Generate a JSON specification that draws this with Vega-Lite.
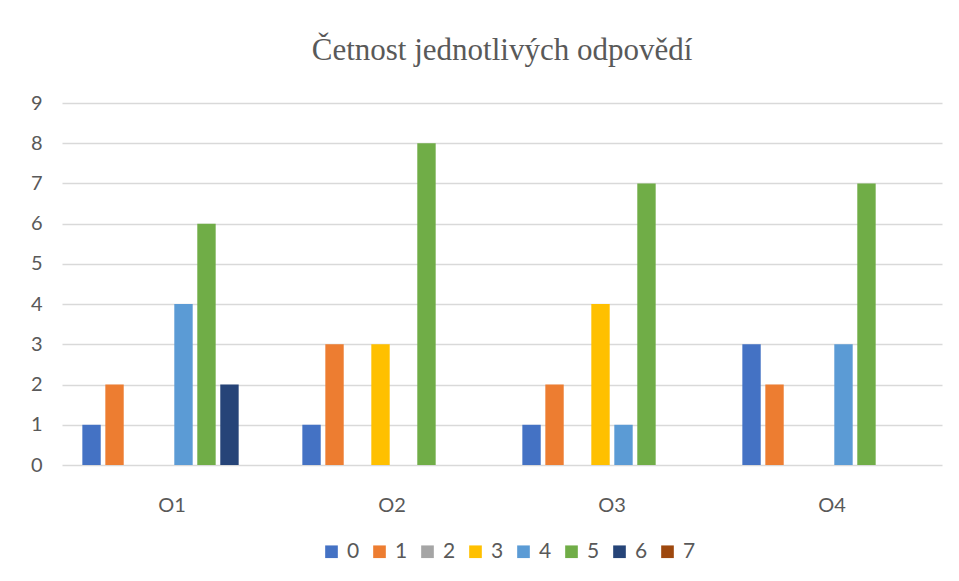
{
  "$schema": "https://vega.github.io/schema/vega-lite/v6.json",
  "autosize": "none",
  "width": 880,
  "height": 362,
  "padding": {"left": 62, "top": 103, "right": 17, "bottom": 116},
  "background": "white",
  "title": {
    "text": "Četnost jednotlivých odpovědí",
    "font": "Liberation Serif",
    "fontSize": 31,
    "fontWeight": "normal",
    "color": "#595959",
    "anchor": "middle",
    "offset": 26
  },
  "data": {
    "values": [
      {"otazka": "O1", "odpoved": "0", "pocet": 1},
      {"otazka": "O1", "odpoved": "1", "pocet": 2},
      {"otazka": "O1", "odpoved": "2", "pocet": 0},
      {"otazka": "O1", "odpoved": "3", "pocet": 0},
      {"otazka": "O1", "odpoved": "4", "pocet": 4},
      {"otazka": "O1", "odpoved": "5", "pocet": 6},
      {"otazka": "O1", "odpoved": "6", "pocet": 2},
      {"otazka": "O1", "odpoved": "7", "pocet": 0},
      {"otazka": "O2", "odpoved": "0", "pocet": 1},
      {"otazka": "O2", "odpoved": "1", "pocet": 3},
      {"otazka": "O2", "odpoved": "2", "pocet": 0},
      {"otazka": "O2", "odpoved": "3", "pocet": 3},
      {"otazka": "O2", "odpoved": "4", "pocet": 0},
      {"otazka": "O2", "odpoved": "5", "pocet": 8},
      {"otazka": "O2", "odpoved": "6", "pocet": 0},
      {"otazka": "O2", "odpoved": "7", "pocet": 0},
      {"otazka": "O3", "odpoved": "0", "pocet": 1},
      {"otazka": "O3", "odpoved": "1", "pocet": 2},
      {"otazka": "O3", "odpoved": "2", "pocet": 0},
      {"otazka": "O3", "odpoved": "3", "pocet": 4},
      {"otazka": "O3", "odpoved": "4", "pocet": 1},
      {"otazka": "O3", "odpoved": "5", "pocet": 7},
      {"otazka": "O3", "odpoved": "6", "pocet": 0},
      {"otazka": "O3", "odpoved": "7", "pocet": 0},
      {"otazka": "O4", "odpoved": "0", "pocet": 3},
      {"otazka": "O4", "odpoved": "1", "pocet": 2},
      {"otazka": "O4", "odpoved": "2", "pocet": 0},
      {"otazka": "O4", "odpoved": "3", "pocet": 0},
      {"otazka": "O4", "odpoved": "4", "pocet": 3},
      {"otazka": "O4", "odpoved": "5", "pocet": 7},
      {"otazka": "O4", "odpoved": "6", "pocet": 0},
      {"otazka": "O4", "odpoved": "7", "pocet": 0}
    ]
  },
  "mark": {"type": "bar"},
  "encoding": {
    "x": {
      "field": "otazka",
      "type": "nominal",
      "title": null,
      "scale": {"paddingInner": 0.164, "paddingOuter": 0.082},
      "axis": {
        "labelAngle": 0,
        "ticks": false,
        "domain": false,
        "labelPadding": 30,
        "labelFont": "Lato",
        "labelFontSize": 20,
        "labelColor": "#595959",
        "grid": false
      }
    },
    "xOffset": {
      "field": "odpoved",
      "type": "nominal",
      "scale": {"paddingInner": 0.2, "paddingOuter": 0.1}
    },
    "y": {
      "field": "pocet",
      "type": "quantitative",
      "title": null,
      "scale": {"domain": [0, 9], "nice": false},
      "axis": {
        "values": [0, 1, 2, 3, 4, 5, 6, 7, 8, 9],
        "labelOverlap": false,
        "ticks": false,
        "domain": false,
        "labelPadding": 20,
        "labelFont": "Lato",
        "labelFontSize": 20,
        "labelColor": "#595959",
        "gridColor": "#d9d9d9",
        "gridWidth": 1.5
      }
    },
    "color": {
      "field": "odpoved",
      "type": "nominal",
      "title": null,
      "scale": {
        "domain": ["0", "1", "2", "3", "4", "5", "6", "7"],
        "range": ["#4472C4", "#ED7D31", "#A5A5A5", "#FFC000", "#5B9BD5", "#70AD47", "#264478", "#9E480E"]
      },
      "legend": {
        "orient": "none",
        "legendX": 259,
        "legendY": 438,
        "direction": "horizontal",
        "symbolType": "square",
        "symbolSize": 160,
        "symbolStrokeWidth": 0,
        "labelFont": "Lato",
        "labelFontSize": 21,
        "labelColor": "#595959",
        "columnPadding": 9,
        "labelOffset": 5
      }
    }
  },
  "config": {
    "view": {"stroke": null}
  }
}
